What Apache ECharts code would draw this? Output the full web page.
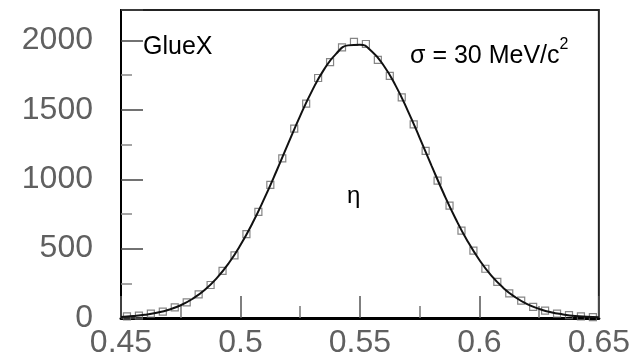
<!DOCTYPE html>
<html>
<head>
<meta charset="utf-8">
<script src="https://cdn.jsdelivr.net/npm/echarts@6/dist/echarts.min.js"></script>
<style>html,body{margin:0;padding:0;background:#fff}#c{width:633px;height:361px}</style>
</head>
<body>
<div id="c"></div>
<script>
// Histogram bin centres (GeV/c^2) and counts (open squares)
const binCenters = [0.4525,0.4575,0.4625,0.4675,0.4725,0.4775,0.4825,0.4875,0.4925,0.4975,
  0.5025,0.5075,0.5125,0.5175,0.5225,0.5275,0.5325,0.5375,0.5425,0.5475,
  0.5525,0.5575,0.5625,0.5675,0.5725,0.5775,0.5825,0.5875,0.5925,0.5975,
  0.6025,0.6075,0.6125,0.6175,0.6225,0.6275,0.6325,0.6375,0.6425,0.6475];
const binCounts = [11,17,31,46,76,112,170,238,340,452,
  605,765,960,1150,1365,1545,1730,1845,1950,1990,
  1975,1860,1745,1590,1395,1205,990,810,630,485,
  355,260,178,125,80,53,32,21,12,7];
// Gaussian fit curve
const fitX = [0.45,0.455,0.46,0.465,0.47,0.475,0.48,0.485,0.49,0.495,
  0.50,0.505,0.51,0.515,0.52,0.525,0.53,0.535,0.54,0.545,
  0.55,0.555,0.56,0.565,0.57,0.575,0.58,0.585,0.59,0.595,
  0.60,0.605,0.61,0.615,0.62,0.625,0.63,0.635,0.64,0.645,0.65];
const fitY = [8,14,23,38,60,92,139,202,286,393,
  526,683,862,1056,1259,1457,1639,1792,1904,1965,
  1970,1920,1818,1673,1495,1299,1097,899,717,555,
  418,305,217,150,100,66,41,26,15,9,5];
const xTicks = [0.45,0.5,0.55,0.6,0.65];
const yTicks = [0,500,1000,1500,2000];

const chart = echarts.init(document.getElementById('c'));
const labelFont = 'Liberation Sans';
chart.setOption({
  animation:false,
  backgroundColor:'#fff',
  grid:{left:121,right:34,top:10,bottom:43,show:true,borderColor:'#222',borderWidth:2,backgroundColor:'transparent'},
  xAxis:{type:'value',min:0.45,max:0.65,interval:0.05,
    axisLine:{show:true,lineStyle:{color:'#000',width:3}},
    axisTick:{inside:true,length:22,lineStyle:{color:'#555',width:1.5}},
    minorTick:{show:true,splitNumber:2,length:12,lineStyle:{color:'#777',width:1.5}},
    splitLine:{show:false},
    axisLabel:{margin:9,fontSize:32,color:'#606060',fontFamily:labelFont,
      formatter:v=>{const m=xTicks.find(t=>Math.abs(t-v)<1e-9);return m===undefined?'':String(m);}}},
  yAxis:{type:'value',min:0,max:2220,interval:500,
    axisLine:{show:true,lineStyle:{color:'#000',width:2}},
    axisTick:{inside:true,length:22,lineStyle:{color:'#444',width:1.5}},
    minorTick:{show:true,splitNumber:2,length:11,lineStyle:{color:'#888',width:1.5}},
    splitLine:{show:false},
    axisLabel:{margin:28,fontSize:32,color:'#606060',fontFamily:labelFont,
      formatter:v=>yTicks.includes(v)?String(v):''}},
  series:[
    {type:'scatter',data:binCenters.map((x,i)=>[x,binCounts[i]]),symbol:'rect',symbolSize:7,
      itemStyle:{color:'rgba(255,255,255,0)',borderColor:'#666',borderWidth:1.2},z:2},
    {type:'line',data:fitX.map((x,i)=>[x,fitY[i]]),smooth:true,showSymbol:false,
      lineStyle:{color:'#111',width:2},z:3}
  ],
  graphic:[
    {type:'text',left:143,top:35,style:{text:'GlueX',font:'25px "Liberation Sans"',fill:'#000'}},
    {type:'text',left:410,top:37,style:{text:'{a|σ = 30 MeV/c}{s|2}',rich:{
      a:{font:'25px "Liberation Sans"',fill:'#000',verticalAlign:'bottom'},
      s:{font:'16px "Liberation Sans"',fill:'#000',verticalAlign:'top',padding:[0,0,16,0]}}}},
    {type:'text',left:347,top:184,style:{text:'η',font:'24px "Liberation Sans"',fill:'#000'}}
  ]
});
</script>
</body>
</html>
